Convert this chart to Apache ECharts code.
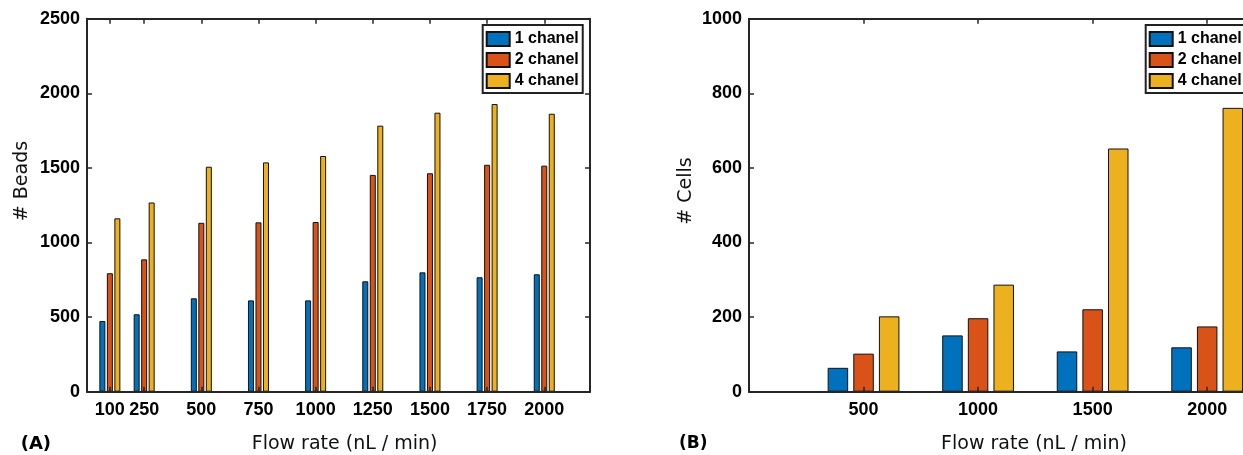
<!DOCTYPE html>
<html>
<head>
<meta charset="utf-8">
<script src="https://cdn.jsdelivr.net/npm/echarts@6/dist/echarts.min.js"></script>
<style>
html,body{margin:0;padding:0;background:#fff;}
#chart{width:1243px;height:455px;}
</style>
</head>
<body>
<div id="chart"></div>
<script>
// ---------- data ----------
const seriesNames = ['1 chanel', '2 chanel', '4 chanel'];

// Panel (A): beads
const beadsFlow = [100, 250, 500, 750, 1000, 1250, 1500, 1750, 2000];
const beads1 = [474, 519, 626, 612, 612, 740, 800, 767, 787];
const beads2 = [794, 887, 1132, 1135, 1137, 1453, 1464, 1521, 1515];
const beads4 = [1162, 1268, 1508, 1537, 1580, 1783, 1870, 1928, 1863];
const beadsYTicks = [0, 500, 1000, 1500, 2000, 2500];

// Panel (B): cells
const cellsFlow = [500, 1000, 1500, 2000];
const cells1 = [64, 151, 108, 119];
const cells2 = [102, 197, 221, 175];
const cells4 = [202, 287, 652, 761];
const cellsYTicks = [0, 200, 400, 600, 800, 1000];

const xTitle = 'Flow rate (nL / min)';
const yTitleA = '# Beads';
const yTitleB = '# Cells';
const panelA = '(A)';
const panelB = '(B)';

// ---------- style ----------
const colors = ['#0072BD', '#D95319', '#EDB120'];
const axisColor = '#262626';
const labelFamily = '"Liberation Sans", Arial, sans-serif';
const titleFamily = '"DejaVu Sans", sans-serif';
const plain = v => String(v);

function pairs(xs, ys) { return xs.map((x, i) => [x, ys[i]]); }

function xAxes(gridIndex, max, ticks) {
  const common = {
    type: 'value', gridIndex: gridIndex, min: 0, max: max,
    splitLine: { show: false },
    axisLine: { show: true, onZero: false, lineStyle: { color: axisColor, width: 2 } },
    axisTick: { show: true, inside: true, length: 5, customValues: ticks, lineStyle: { color: axisColor, width: 1.5 } },
    z: 5
  };
  return [
    Object.assign({}, common, {
      position: 'bottom',
      axisLabel: { show: true, customValues: ticks, formatter: plain, margin: 9, color: '#000', fontWeight: 'bold', fontSize: 18, fontFamily: labelFamily }
    }),
    Object.assign({}, common, { position: 'top', axisLabel: { show: false } })
  ];
}

function yAxes(gridIndex, ticks) {
  const common = {
    type: 'value', gridIndex: gridIndex, min: ticks[0], max: ticks[ticks.length - 1],
    interval: ticks[1] - ticks[0],
    splitLine: { show: false },
    axisLine: { show: true, onZero: false, lineStyle: { color: axisColor, width: 2 } },
    axisTick: { show: true, inside: true, length: 5, lineStyle: { color: axisColor, width: 1.5 } },
    z: 5
  };
  return [
    Object.assign({}, common, {
      position: 'left',
      axisLabel: { show: true, formatter: plain, margin: 7, color: '#000', fontWeight: 'bold', fontSize: 18, fontFamily: labelFamily }
    }),
    Object.assign({}, common, { position: 'right', axisLabel: { show: false } })
  ];
}

function bars(name, color, data, xi, yi, w) {
  return {
    type: 'bar', name: name, xAxisIndex: xi, yAxisIndex: yi,
    data: data, barWidth: w, barGap: '25%',
    itemStyle: { color: color, borderColor: '#111', borderWidth: 1 },
    emphasis: { disabled: true }
  };
}

function legend(left) {
  return {
    data: seriesNames, orient: 'vertical', left: left, top: 25,
    icon: 'rect', itemWidth: 23, itemHeight: 14, itemGap: 5,
    padding: [6, 4, 4, 3],
    borderColor: '#222', borderWidth: 2, backgroundColor: '#fff',
    selectedMode: false,
    textStyle: { color: '#000', fontWeight: 'bold', fontSize: 16, lineHeight: 14, fontFamily: labelFamily }
  };
}

const chart = echarts.init(document.getElementById('chart'), null, { renderer: 'canvas' });

const option = {
  animation: false,
  backgroundColor: '#fff',
  grid: [
    { left: 87, top: 18.7, width: 503, height: 373, outerBoundsMode: 'none', containLabel: false },
    { left: 749, top: 18.7, width: 504, height: 373, outerBoundsMode: 'none', containLabel: false }
  ],
  xAxis: [].concat(xAxes(0, 2200, beadsFlow), xAxes(1, 2200, cellsFlow)),
  yAxis: [].concat(yAxes(0, beadsYTicks), yAxes(1, cellsYTicks)),
  legend: [legend(482.7), legend(1145.7)],
  series: [
    bars(seriesNames[0], colors[0], pairs(beadsFlow, beads1), 0, 0, 6),
    bars(seriesNames[1], colors[1], pairs(beadsFlow, beads2), 0, 0, 6),
    bars(seriesNames[2], colors[2], pairs(beadsFlow, beads4), 0, 0, 6),
    bars(seriesNames[0], colors[0], pairs(cellsFlow, cells1), 2, 2, 20.5),
    bars(seriesNames[1], colors[1], pairs(cellsFlow, cells2), 2, 2, 20.5),
    bars(seriesNames[2], colors[2], pairs(cellsFlow, cells4), 2, 2, 20.5)
  ],
  graphic: [
    { type: 'text', x: 22, y: 181, rotation: Math.PI / 2,
      style: { text: yTitleA, align: 'center', verticalAlign: 'middle', fill: '#111', font: '19px ' + titleFamily } },
    { type: 'text', x: 686, y: 191, rotation: Math.PI / 2,
      style: { text: yTitleB, align: 'center', verticalAlign: 'middle', fill: '#111', font: '19px ' + titleFamily } },
    { type: 'text', x: 344.6, y: 444,
      style: { text: xTitle, align: 'center', verticalAlign: 'middle', fill: '#111', font: '19px ' + titleFamily } },
    { type: 'text', x: 1034, y: 444,
      style: { text: xTitle, align: 'center', verticalAlign: 'middle', fill: '#111', font: '19px ' + titleFamily } },
    { type: 'text', x: 20.7, y: 444,
      style: { text: panelA, align: 'left', verticalAlign: 'middle', fill: '#000', font: 'bold 18px ' + titleFamily } },
    { type: 'text', x: 679, y: 444,
      style: { text: panelB, align: 'left', verticalAlign: 'middle', fill: '#000', font: 'bold 17px ' + titleFamily } }
  ]
};

chart.setOption(option);
</script>
</body>
</html>
